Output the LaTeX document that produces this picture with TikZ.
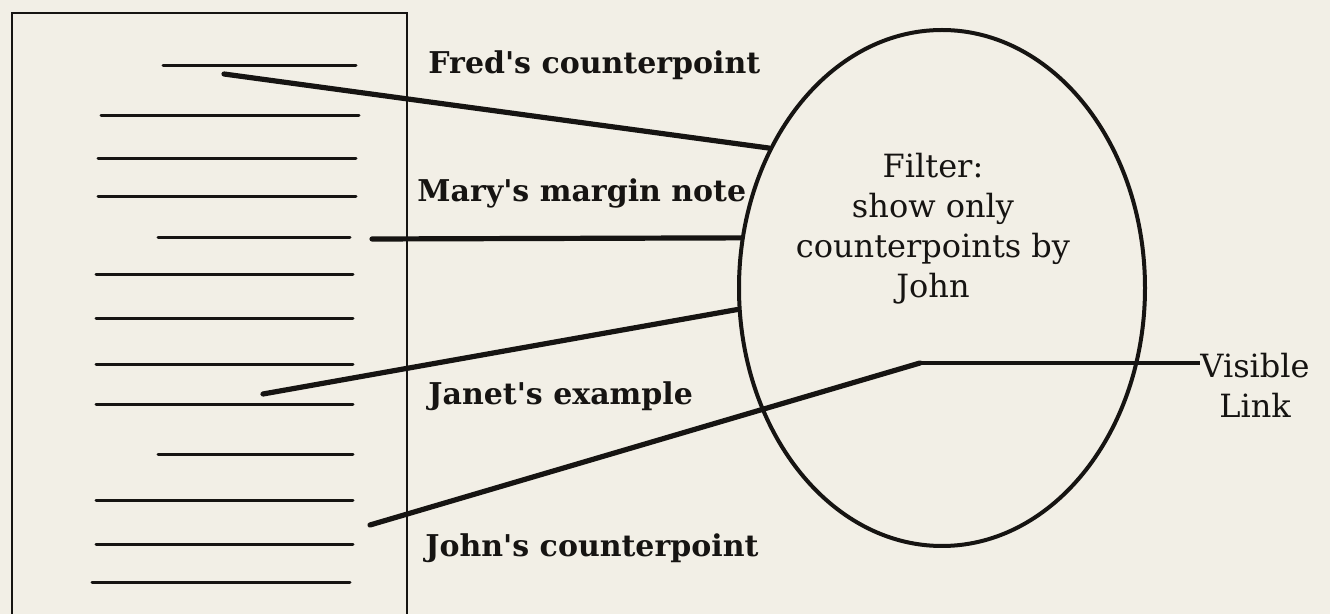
\documentclass[tikz,border=0pt]{standalone}
\usepackage{fontspec}
\newfontfamily\diagfont{DejaVu Serif}
\usetikzlibrary{shapes.geometric}

\definecolor{paper}{RGB}{242,239,230}
\definecolor{ink}{RGB}{22,20,18}

\begin{document}
\begin{tikzpicture}[
    x=0.5pt, y=-0.5pt,
    pageline/.style={draw=ink, line width=1.5pt, line cap=round},
    connector/.style={draw=ink, line width=2.6pt, line cap=round},
    notelabel/.style={
        anchor=base west,
        inner sep=0pt,
        text=ink,
        font=\diagfont\bfseries\fontsize{15}{18}\selectfont
    },
    filtershape/.style={
        ellipse,
        draw=ink,
        line width=2pt,
        inner sep=0pt,
        minimum width=203pt,
        minimum height=258pt
    },
    plaintext/.style={
        align=center,
        inner sep=0pt,
        text=ink,
        font=\diagfont\fontsize{16}{20}\selectfont
    },
]

\useasboundingbox (0,0) rectangle (1330,614);
\fill[paper] (0,0) rectangle (1330,614);

% === DOCUMENT PAGE ===
\draw[ink, line width=1.3pt] (12,640) -- (12,13) -- (407,13) -- (407,640);
\foreach \y/\a/\b in {66/163/356, 116/101/359, 159/98/356, 197/98/356,
                      238/158/350, 275/96/353, 319/96/353, 365/96/353,
                      405/96/353, 455/158/353, 501/96/353, 545/96/353,
                      583/92/350} {
    \draw[pageline] (\a,\y) -- (\b,\y);
}

% marks on the page
\coordinate (fredmark) at (224,74);
\coordinate (marymark) at (372,239);
\coordinate (janetmark) at (263,394);
\coordinate (johnmark) at (370,525);

% === FILTER ===
\node[filtershape] (filter) at (942,288) {};
\node[plaintext] (filtertext) at (933,229)
{Filter:\\show only\\counterpoints by\\John};

% Labels
\node[notelabel] (fred) at (428,73.5) {Fred's counterpoint};
\node[notelabel] (mary) at (417,202) {Mary's margin note};
\node[notelabel] (janet) at (428,405) {Janet's example};
\node[notelabel] (john) at (425,557) {John's counterpoint};

\node[plaintext] (visible) at (1255,385) {Visible\\Link};

% Connectors
\draw[connector] (fredmark) -- (filter.141.8);
\draw[connector] (marymark) -- (filter.166.2);
\draw[connector] (janetmark) -- (filter.186.2);

\coordinate (bend) at (920,363);
\draw[connector] (johnmark) -- (bend);
\draw[connector, line width=2pt, line cap=butt] (bend) -- (bend -| visible.west);

\end{tikzpicture}
\end{document}
